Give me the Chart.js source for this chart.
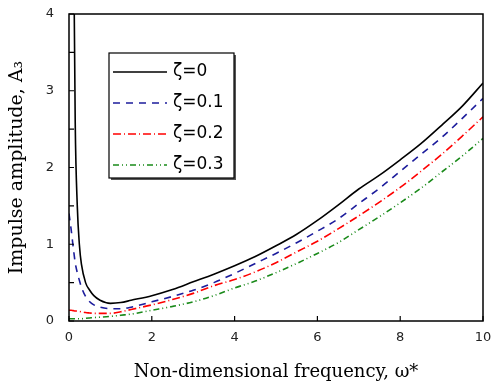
<!DOCTYPE html>
<html>
<head>
<meta charset="utf-8">
<script src="https://cdn.jsdelivr.net/npm/chart.js@4"></script>
<style>
  html, body { margin: 0; padding: 0; background: #fff; }
  #wrap { width: 494px; height: 387px; }
</style>
</head>
<body>
<div id="wrap"><canvas id="grafik" width="494" height="387"></canvas></div>
<script>
// data
const omega  = [0, 0.05, 0.1, 0.15, 0.2, 0.25, 0.3, 0.4, 0.5, 0.6, 0.75, 1, 1.25, 1.5, 2, 2.5, 3, 3.5, 4, 4.5, 5, 5.5, 6, 6.5, 7, 7.5, 8, 8.5, 9, 9.5, 10];
const zeta0  = [null, null, 5.8, 2.6, 1.5, 1.0, 0.74, 0.5, 0.4, 0.33, 0.27, 0.23, 0.24, 0.27, 0.33, 0.41, 0.51, 0.61, 0.72, 0.84, 0.98, 1.13, 1.31, 1.51, 1.72, 1.90, 2.10, 2.31, 2.55, 2.80, 3.10];
const zeta01 = [1.4, 1.2, 0.97, 0.76, 0.63, 0.53, 0.44, 0.32, 0.25, 0.21, 0.18, 0.16, 0.16, 0.18, 0.25, 0.32, 0.40, 0.50, 0.62, 0.75, 0.88, 1.02, 1.17, 1.33, 1.53, 1.73, 1.95, 2.17, 2.39, 2.64, 2.90];
const zeta02 = [0.14, 0.14, 0.135, 0.13, 0.13, 0.125, 0.12, 0.11, 0.105, 0.10, 0.10, 0.10, 0.12, 0.15, 0.21, 0.28, 0.36, 0.46, 0.54, 0.64, 0.76, 0.90, 1.04, 1.20, 1.37, 1.55, 1.74, 1.95, 2.17, 2.41, 2.66];
const zeta03 = [0.03, 0.03, 0.03, 0.03, 0.03, 0.03, 0.03, 0.035, 0.04, 0.045, 0.05, 0.06, 0.075, 0.09, 0.14, 0.19, 0.25, 0.33, 0.43, 0.52, 0.63, 0.75, 0.88, 1.02, 1.19, 1.36, 1.54, 1.73, 1.94, 2.15, 2.38];
const seriesLabels = ['ζ=0', 'ζ=0.1', 'ζ=0.2', 'ζ=0.3'];
const xTicks = [0, 2, 4, 6, 8, 10];
const yTicks = [0, 1, 2, 3, 4];

const pts = arr => omega.map((w, i) => ({ x: w, y: arr[i] }));

function seri(label, arr, color, dash) {
    return {
        label, data: pts(arr), borderColor: color, borderDash: dash,
        borderWidth: 1.6, pointRadius: 0, fill: false,
        cubicInterpolationMode: 'monotone', spanGaps: false
    };
}

// frame, inward ticks and boxed legend
const cerceve = {
    id: 'cerceve',
    afterDraw(chart) {
        const { ctx, chartArea: a, scales } = chart;
        ctx.save();
        ctx.strokeStyle = '#000';
        ctx.lineWidth = 1.5;
        ctx.strokeRect(a.left, a.top, a.right - a.left, a.bottom - a.top);

        ctx.lineWidth = 1.2;
        ctx.beginPath();
        xTicks.forEach(v => {
            const px = scales.x.getPixelForValue(v);
            ctx.moveTo(px, a.bottom); ctx.lineTo(px, a.bottom - 5);
        });
        for (let v = 0; v <= 4; v += 0.5) {
            const py = scales.y.getPixelForValue(v);
            ctx.moveTo(a.left, py); ctx.lineTo(a.left + 5, py);
        }
        ctx.stroke();

        // legend box
        const bx = 109, by = 53, bw = 125, bh = 125;
        ctx.fillStyle = '#555';
        ctx.fillRect(bx + 2, by + 2, bw, bh);
        ctx.fillStyle = '#fff';
        ctx.fillRect(bx, by, bw, bh);
        ctx.strokeStyle = '#000';
        ctx.lineWidth = 1.2;
        ctx.strokeRect(bx, by, bw, bh);

        ctx.font = '17px "DejaVu Sans"';
        ctx.textBaseline = 'middle';
        chart.data.datasets.forEach((d, i) => {
            const y = 72 + i * 31;
            ctx.strokeStyle = d.borderColor;
            ctx.lineWidth = 1.6;
            ctx.setLineDash(d.borderDash || []);
            ctx.beginPath();
            ctx.moveTo(113, y); ctx.lineTo(167, y);
            ctx.stroke();
            ctx.setLineDash([]);
            ctx.fillStyle = '#000';
            ctx.fillText(d.label, 173, y);
        });
        ctx.restore();
    }
};

new Chart(document.getElementById('grafik'), {
    type: 'line',
    data: {
        datasets: [
            seri(seriesLabels[0], zeta0, '#000000', []),
            seri(seriesLabels[1], zeta01, '#1c1c9c', [7, 6]),
            seri(seriesLabels[2], zeta02, '#ff0000', [8, 3, 1, 3]),
            seri(seriesLabels[3], zeta03, '#1a8a1a', [6, 3, 1, 3, 1, 3])
        ]
    },
    options: {
        responsive: false,
        animation: false,
        layout: { padding: { top: 14, right: 11, left: 0, bottom: 0 } },
        plugins: { legend: { display: false }, tooltip: { enabled: false } },
        scales: {
            x: {
                type: 'linear', min: 0, max: 10,
                afterBuildTicks: s => { s.ticks = xTicks.map(v => ({ value: v })); },
                afterFit: s => { s.height = 66; s.paddingLeft = 0; s.paddingRight = 0; },
                grid: { display: false, drawTicks: false },
                border: { display: false },
                ticks: { padding: 9, color: '#222', font: { family: 'DejaVu Sans', size: 13 }, maxRotation: 0 },
                title: { display: true, text: 'Non-dimensional frequency, ω*', color: '#000',
                         font: { family: 'DejaVu Serif', size: 18 }, padding: { top: 7 } }
            },
            y: {
                type: 'linear', min: 0, max: 4,
                afterBuildTicks: s => { s.ticks = yTicks.map(v => ({ value: v })); },
                afterFit: s => { s.width = 69; s.paddingTop = 0; s.paddingBottom = 0; },
                grid: { display: false, drawTicks: false },
                border: { display: false },
                ticks: { padding: 15, color: '#222', font: { family: 'DejaVu Sans', size: 13 } },
                title: { display: true, text: 'Impulse amplitude, A₃', color: '#000',
                         font: { family: 'DejaVu Serif', size: 19 }, padding: { top: 6, bottom: 4 } }
            }
        }
    },
    plugins: [cerceve]
});
</script>
</body>
</html>
